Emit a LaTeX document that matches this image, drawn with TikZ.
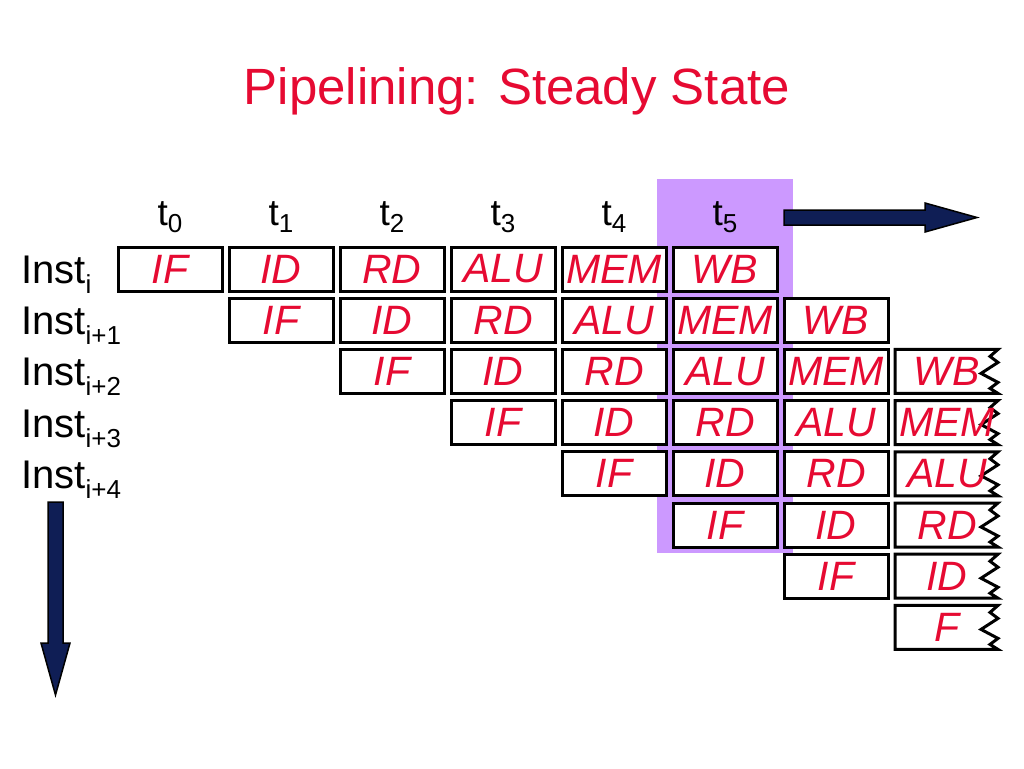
\documentclass[tikz,border=0pt]{standalone}
\usepackage{fontspec}
\setmainfont{Liberation Sans}
\definecolor{stagered}{RGB}{230,10,50}
\definecolor{hilite}{RGB}{204,153,255}
\definecolor{navy}{RGB}{15,30,85}
\tikzset{
  stgbox/.style={draw=black, line width=3pt, fill=white, minimum width=104pt, minimum height=44pt, inner sep=0pt,
    font=\fontsize{41}{41}\selectfont\itshape, text=stagered},
  stgtext/.style={inner sep=0pt, font=\fontsize{41}{41}\selectfont\itshape, text=stagered},
  jagline/.style={draw=black, line width=3pt, fill=white, line join=miter},
  timelabel/.style={anchor=base, inner sep=0pt, font=\fontsize{37}{37}\selectfont},
  instlabel/.style={anchor=base west, inner sep=0pt, font=\fontsize{40}{40}\selectfont},
  blockarrow/.style={draw=black, line width=1.5pt, fill=navy, line join=miter}
}
\newcommand{\subtxt}[2]{\raisebox{-#1pt}{\fontsize{26}{26}\selectfont #2}}
\newcommand{\jagbox}[3]{%
  \draw[jagline] (895,#1) -- (998,#1) -- ++(-8,7) -- ++(8,6) -- ++(-17,11) -- ++(17,9) -- ++(-8,6) -- ++(8,5) -- (895,{#1+44}) -- cycle;
  \node[stgtext] (#2) at (947,{#1+22}) {#3};
}
\begin{document}
\begin{tikzpicture}[x=1pt,y=-1pt]
\useasboundingbox (0,0) rectangle (1024,768);
% title
\node[anchor=base, inner sep=0pt, text=stagered, font=\fontsize{51}{51}\selectfont] (title) at (517,104) {Pipelining: Steady State};
% highlight column
\fill[hilite] (657,179) rectangle (793,553);
% time labels
\foreach \k in {0,...,5} {
  \pgfmathsetmacro\tx{170+111*\k}
  \node[timelabel] (t\k) at (\tx,225) {t\subtxt{7}{\k}};
}
% instruction labels
\node[instlabel] (inst0) at (21,283.5) {Inst\subtxt{10}{i}};
\foreach \r in {1,...,4} {
  \pgfmathsetmacro\iy{283.5+51.2*\r}
  \node[instlabel] (inst\r) at (21,\iy) {Inst\subtxt{10}{i+\r}};
}
% stage boxes
\foreach \r in {0,...,6} {
  \foreach [count=\s from 0] \t in {IF,ID,RD,ALU,MEM,WB} {
    \pgfmathtruncatemacro\c{\r+\s}
    \pgfmathsetmacro\bx{170+111*\c}
    \pgfmathsetmacro\by{269+51.2*\r}
    \pgfmathsetmacro\bt{247+51.2*\r}
    \ifnum\c<7
      \node[stgbox] (b-\r-\c) at (\bx,\by) {\t};
    \else\ifnum\c=7
      \jagbox{\bt}{b-\r-\c}{\t}
    \fi\fi
  }
}
\jagbox{605.4}{b-7-7}{F}
% time arrow
\coordinate (ta) at (784,217.5);
\draw[blockarrow] (ta) ++(0,-7.5) -- ++(141,0) -- ++(0,-7) -- (977,217.5) -- (925,232) -- (925,225) -- (784,225) -- cycle;
% instruction arrow
\coordinate (ia) at (55.5,502);
\draw[blockarrow] (48,502) -- (63,502) -- (63,643) -- (70,643) -- (55.5,695) -- (41,643) -- (48,643) -- cycle;
\end{tikzpicture}
\end{document}
